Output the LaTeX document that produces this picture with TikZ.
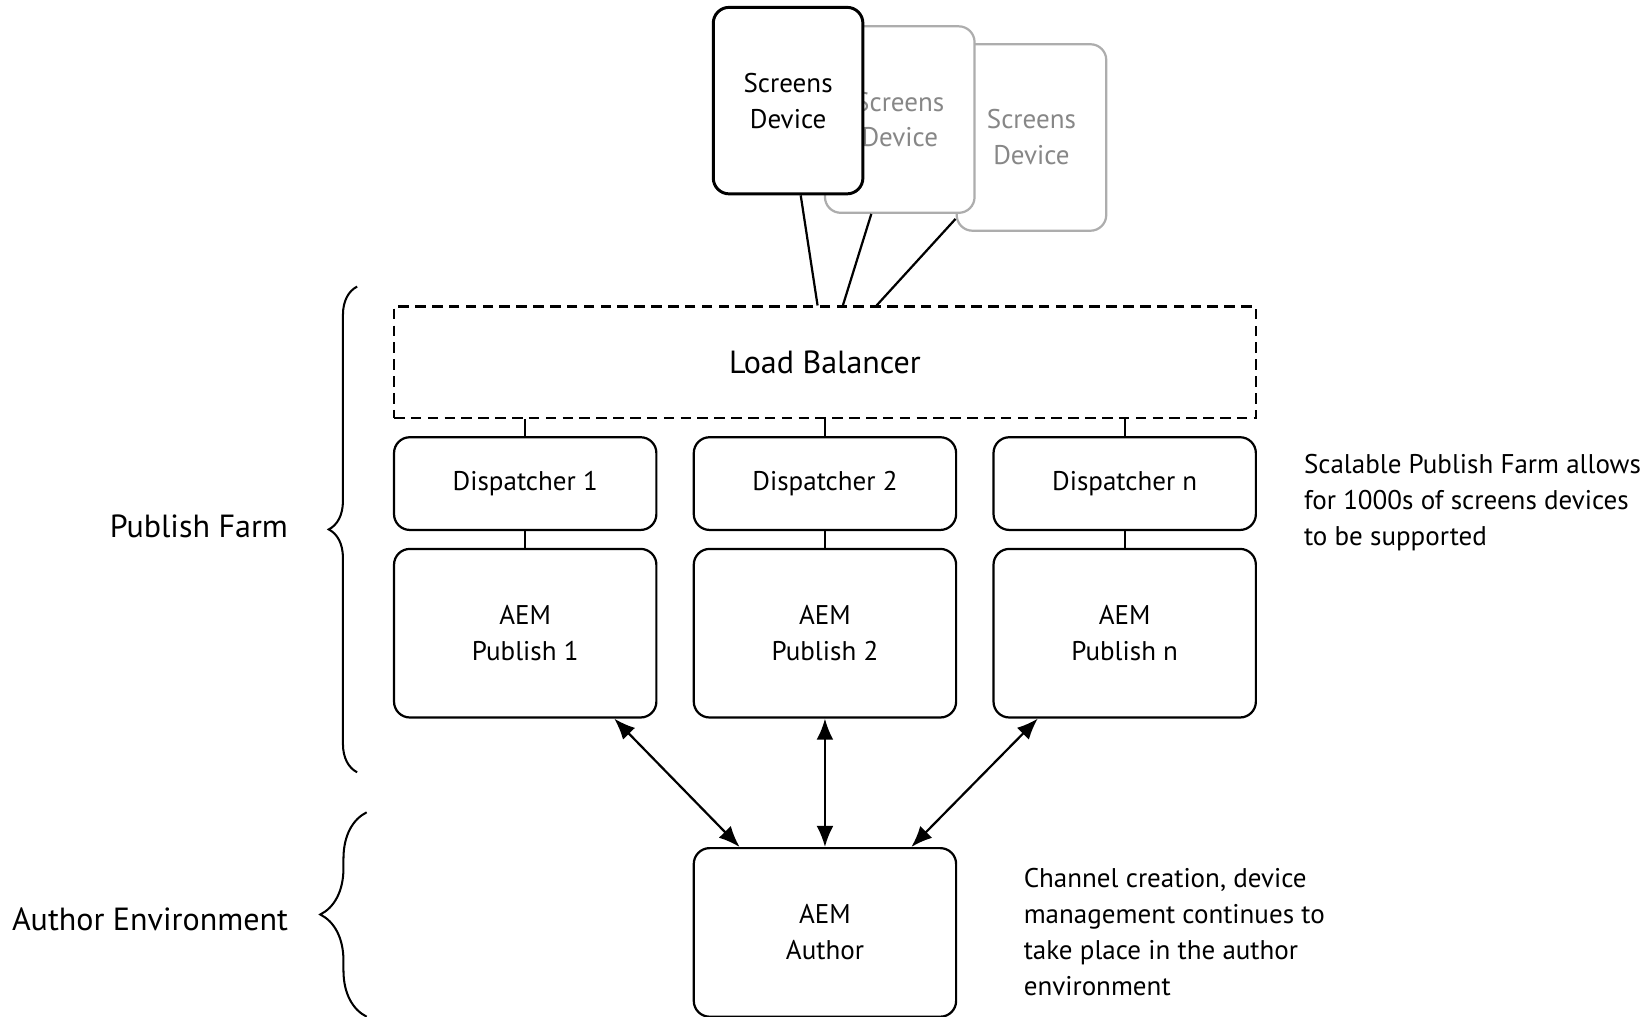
\documentclass[tikz,border=0pt]{standalone}
\usepackage{fontspec}
\setmainfont{PT Sans}
\usepackage{tikz}
\usetikzlibrary{arrows.meta,decorations.pathreplacing}
\newcommand{\txtsmall}{\fontsize{7.3}{9.7}\selectfont}
\newcommand{\txtlarge}{\fontsize{8.65}{11}\selectfont}
\definecolor{ghostline}{HTML}{ADADAD}
\definecolor{ghosttext}{HTML}{878787}
\tikzstyle{edge}=[
	-,
	draw=black,
	line width=0.6pt
]
\tikzstyle{twoway}=[
	edge,
	{Latex[length=2mm,width=1.6mm]}-{Latex[length=2mm,width=1.6mm]}
]
\tikzstyle{box}=[
	draw=black,
	fill=white,
	rounded corners=1.5mm,
	line width=0.6pt,
	inner sep=0mm,
	align=center,
	font=\txtsmall,
	minimum width=2.49cm
]
\tikzstyle{device}=[
	box,
	minimum width=1.42cm,
	minimum height=1.77cm
]
\tikzstyle{ghost}=[
	device,
	draw=ghostline,
	text=ghosttext
]
\tikzstyle{note}=[
	align=left,
	anchor=west,
	font=\txtsmall,
	inner sep=0mm
]
\tikzstyle{brace}=[
	draw=black,
	line width=0.55pt,
	decorate
]

\begin{document}
\begin{tikzpicture}
\useasboundingbox (0,0) rectangle (15.68,-9.65);

\node[ghost] at (9.79, -1.305) (dev3) {Screens\\Device};
\node[ghost] at (8.54, -1.135) (dev2) {Screens\\Device};
\node[device, line width=0.8pt] at (7.48, -0.955) (dev1) {Screens\\Device};

\node[draw=black, dashed, dash pattern=on 1mm off 0.6mm, line width=0.6pt,
      minimum width=8.18cm, minimum height=1.06cm, inner sep=0mm,
      font=\txtlarge] at (7.83, -3.44) (lb) {Load Balancer};

\draw[edge] ([xshift=0.12cm]dev1.south) to ([xshift=-0.07cm]lb.north);
\draw[edge] ([xshift=-0.27cm]dev2.south) to ([xshift=0.17cm]lb.north);
\draw[edge] (dev3.227) to ([xshift=0.49cm]lb.north);

\foreach \x/\n in {4.985/1, 7.83/2, 10.675/n}{
    \node[box, minimum height=0.88cm] at (\x, -4.59) (disp\n) {Dispatcher \n};
    \node[box, minimum height=1.6cm] at (\x, -6.01) (pub\n) {AEM\\Publish \n};
    \draw[edge] (disp\n.north |- lb.south) to (disp\n.north);
    \draw[edge] (disp\n.south) to (pub\n.north);
}

\node[box, minimum height=1.6cm] at (7.83, -8.85) (author) {AEM\\Author};

\draw[twoway] ([xshift=0.845cm]pub1.south) to ([xshift=-0.81cm]author.north);
\draw[twoway] (pub2.south) to (author.north);
\draw[twoway] ([xshift=-0.825cm]pubn.south) to ([xshift=0.82cm]author.north);

\draw[brace, decoration={brace, amplitude=0.27cm}] (3.39, -7.33) to (3.39, -2.72);
\draw[brace, decoration={brace, amplitude=0.44cm}] (3.48, -9.65) to (3.48, -7.71);

\node[anchor=east, font=\txtlarge, inner sep=0mm] at (2.74, -5.00) (farmlabel) {Publish Farm};
\node[anchor=east, font=\txtlarge, inner sep=0mm] at (2.74, -8.73) (authlabel) {Author Environment};

\node[note] at (12.37, -4.77) (farmnote) {Scalable Publish Farm allows\\for 1000s of screens devices\\to be supported};
\node[note] at (9.71, -8.845) (authnote) {Channel creation, device\\management continues to\\take place in the author\\environment};
\end{tikzpicture}
\end{document}
